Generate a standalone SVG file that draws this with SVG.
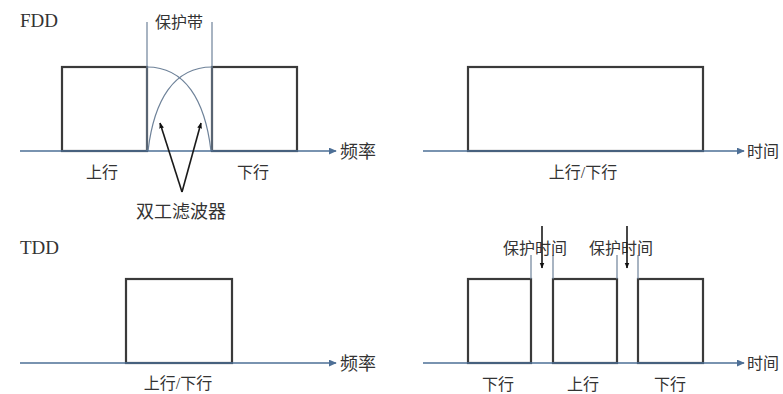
<svg xmlns="http://www.w3.org/2000/svg" width="783" height="394" viewBox="0 0 783 394">
<defs>
<style>
.axis{stroke:#4d6f96;stroke-width:1.6;fill:none}
.box{stroke:#3a3a3a;stroke-width:2.2;fill:none}
.guide{stroke:#6e8299;stroke-width:1.2;fill:none}
.ptr{stroke:#1a1a1a;stroke-width:1.6;fill:none}
.t{font-family:"Liberation Serif","Noto Sans CJK SC",serif;font-size:16px;fill:#333}
.b{font-size:18px}
.h{font-size:19px}
.m{text-anchor:middle}
</style>
<marker id="ax" viewBox="0 0 10 10" refX="9" refY="5" markerWidth="8" markerHeight="7" markerUnits="userSpaceOnUse" orient="auto" preserveAspectRatio="none"><path d="M0,0L10,5L0,10z" fill="#4d6f96"/></marker>
<marker id="pt" viewBox="0 0 10 10" refX="9" refY="5" markerWidth="6" markerHeight="6" markerUnits="userSpaceOnUse" orient="auto"><path d="M0,1L10,5L0,9z" fill="#111"/></marker>
</defs>
<rect width="783" height="394" fill="#fff"/>
<g id="fdd-freq">
<text class="t h" x="20" y="27">FDD</text>
<rect class="box" x="62" y="67" width="85" height="84"/>
<rect class="box" x="212" y="67" width="85" height="84"/>
<line class="guide" x1="147" y1="22" x2="147" y2="151"/>
<line class="guide" x1="212" y1="22" x2="212" y2="151"/>
<path class="guide" d="M147,67 C185,67 205,100 211,151"/>
<path class="guide" d="M148,151 C154,100 174,67 212,67"/>
<text class="t m" x="179" y="28">保护带</text>
<text class="t m" x="102" y="178">上行</text>
<text class="t m" x="253" y="178">下行</text>
<text class="t m b" x="181" y="218">双工滤波器</text>
<text class="t b" x="340" y="158">频率</text>
</g>
<g id="fdd-time">
<rect class="box" x="468" y="67" width="235" height="84"/>
<text class="t m" x="583" y="178">上行/下行</text>
<text class="t" x="747" y="157">时间</text>
</g>
<g id="tdd-freq">
<text class="t h" x="20" y="254">TDD</text>
<rect class="box" x="126" y="279" width="106" height="84"/>
<text class="t m" x="178" y="389">上行/下行</text>
<text class="t b" x="340" y="370">频率</text>
</g>
<g id="tdd-time">
<rect class="box" x="468" y="279" width="63" height="84"/>
<rect class="box" x="553" y="279" width="64" height="84"/>
<rect class="box" x="638" y="279" width="65" height="84"/>
<line class="guide" x1="531" y1="255" x2="531" y2="279"/>
<line class="guide" x1="553" y1="255" x2="553" y2="279"/>
<line class="guide" x1="617" y1="255" x2="617" y2="279"/>
<line class="guide" x1="638" y1="255" x2="638" y2="279"/>
<text class="t" x="503" y="254">保护时间</text>
<text class="t" x="589" y="254">保护时间</text>
<text class="t m" x="498" y="390">下行</text>
<text class="t m" x="583" y="390">上行</text>
<text class="t m" x="670" y="390">下行</text>
<text class="t" x="747" y="369">时间</text>
</g>
<g id="connectors">
<line class="axis" x1="20" y1="151" x2="336" y2="151" marker-end="url(#ax)"/>
<line class="axis" x1="423" y1="151" x2="744" y2="151" marker-end="url(#ax)"/>
<line class="axis" x1="20" y1="363" x2="336" y2="363" marker-end="url(#ax)"/>
<line class="axis" x1="423" y1="363" x2="744" y2="363" marker-end="url(#ax)"/>
<line class="ptr" x1="182" y1="192" x2="160" y2="123" marker-end="url(#pt)"/>
<line class="ptr" x1="182" y1="192" x2="201" y2="123" marker-end="url(#pt)"/>
<line class="ptr" x1="542" y1="226" x2="542" y2="268" marker-end="url(#pt)"/>
<line class="ptr" x1="627" y1="226" x2="627" y2="268" marker-end="url(#pt)"/>
</g>
</svg>
